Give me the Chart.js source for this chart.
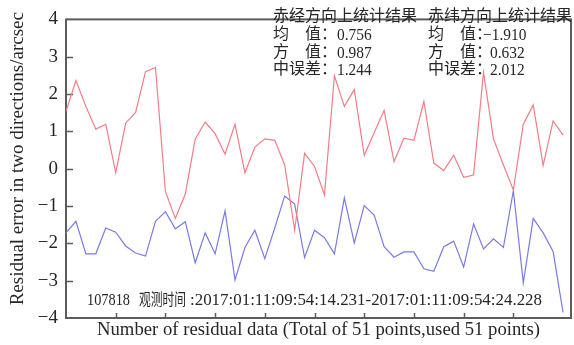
<!DOCTYPE html>
<html>
<head>
<meta charset="utf-8">
<script src="https://cdn.jsdelivr.net/npm/chart.js@4.4.1/dist/chart.umd.min.js"></script>
<style>
  html, body { margin: 0; padding: 0; background: #fff; }
  #wrap { width: 574px; height: 345px; }
</style>
</head>
<body>
<div id="wrap"><canvas id="c" width="574" height="345"></canvas></div>
<script>
// Residual sample numbers (51 observations, indexed from 0)
const sampleIndex = [
  0, 1, 2, 3, 4, 5, 6, 7, 8, 9,
  10, 11, 12, 13, 14, 15, 16, 17, 18, 19,
  20, 21, 22, 23, 24, 25, 26, 27, 28, 29,
  30, 31, 32, 33, 34, 35, 36, 37, 38, 39,
  40, 41, 42, 43, 44, 45, 46, 47, 48, 49, 50
];

// Right ascension residuals (arcsec)
const raResidual = [
  1.54, 2.36, 1.67, 1.06, 1.19, -0.11, 1.22, 1.51, 2.60, 2.71,
  -0.61, -1.33, -0.68, 0.80, 1.25, 0.94, 0.39, 1.19, -0.11, 0.58,
  0.80, 0.76, 0.10, -1.65, 0.41, 0.06, -0.70, 2.49, 1.67, 2.12,
  0.36, 0.96, 1.56, 0.19, 0.82, 0.76, 1.80, 0.15, -0.05, 0.36,
  -0.23, -0.17, 2.58, 0.80, 0.10, -0.57, 1.19, 1.71, 0.09, 1.28, 0.90
];

// Declination residuals (arcsec)
const decResidual = [
  -1.72, -1.41, -2.28, -2.28, -1.59, -1.70, -2.07, -2.26, -2.34, -1.41,
  -1.15, -1.61, -1.42, -2.52, -1.72, -2.28, -1.13, -2.98, -2.11, -1.65,
  -2.41, -1.59, -0.73, -0.95, -2.38, -1.65, -1.85, -2.28, -0.78, -1.99,
  -0.99, -1.24, -2.09, -2.37, -2.23, -2.23, -2.68, -2.75, -2.09, -1.94,
  -2.63, -1.48, -2.15, -1.88, -2.11, -0.59, -3.06, -1.33, -1.72, -2.22, -3.85
];

const yTickValues = [-4, -3, -2, -1, 0, 1, 2, 3, 4];
const xTickValues = [5, 10, 15, 20, 25, 30, 35, 40, 45];

// Summary statistics: mean, variance, RMS error
const statTitles = ['赤经方向上统计结果', '赤纬方向上统计结果'];
const statLabels = ['均　值：', '方　值：', '中误差：'];
const raStats = [0.756, 0.987, 1.244];
const decStats = [-1.910, 0.632, 2.012];

// Observation info line
const stationId = '107818';
const obsTimeLabel = '观测时间';
const obsStart = '2017:01:11:09:54:14.231';
const obsEnd = '2017:01:11:09:54:24.228';

const xTitle = 'Number of residual data (Total of 51 points,used 51 points)';
const yTitle = 'Residual error in two directions/arcsec';

const SERIF = '"Liberation Serif", "Noto Sans CJK SC", serif';
const INK = '#262626';
const FRAME = '#5c5c5c';

const fmt = v => v.toFixed(3).replace('-', '−');

// Draw text squeezed or stretched horizontally by a factor
function scaledText(ctx, text, left, y, sx) {
  ctx.save();
  ctx.translate(left, y);
  ctx.scale(sx, 1);
  ctx.fillText(text, 0, 0);
  ctx.restore();
}
// Draw text squeezed or stretched to span a given width
function fitText(ctx, text, left, y, width) {
  scaledText(ctx, text, left, y, width / ctx.measureText(text).width);
}

const decorPlugin = {
  id: 'decor',
  beforeDatasetsDraw(chart) {
    const { ctx, chartArea: a, scales } = chart;
    ctx.save();
    ctx.strokeStyle = FRAME;
    ctx.lineWidth = 2;
    ctx.strokeRect(a.left, a.top, a.right - a.left, a.bottom - a.top);
    // inward tick marks
    ctx.lineWidth = 1.5;
    ctx.beginPath();
    xTickValues.forEach(v => {
      const px = Math.round(scales.x.getPixelForValue(v)) + 0.5;
      ctx.moveTo(px, a.bottom);
      ctx.lineTo(px, a.bottom - 5);
    });
    yTickValues.slice(1, -1).forEach(v => {
      const py = Math.round(scales.y.getPixelForValue(v)) + 0.5;
      ctx.moveTo(a.left, py);
      ctx.lineTo(a.left + 7, py);
    });
    ctx.stroke();

    // vertical axis title, set a little above the plot's mid-height
    ctx.fillStyle = INK;
    ctx.font = '19px ' + SERIF;
    ctx.textAlign = 'center';
    ctx.textBaseline = 'middle';
    ctx.translate(18, (a.top + a.bottom) / 2 - 10);
    ctx.rotate(-Math.PI / 2);
    ctx.fillText(yTitle, 0, 0);
    ctx.restore();
  },
  afterDatasetsDraw(chart) {
    const { ctx } = chart;
    ctx.save();
    ctx.fillStyle = INK;
    ctx.textBaseline = 'middle';
    ctx.textAlign = 'left';
    const blocks = [
      { left: 273, valueLeft: 337, stats: raStats, title: statTitles[0] },
      { left: 428, valueLeft: 490, stats: decStats, title: statTitles[1] }
    ];
    const rowY = [17, 35, 53, 70];
    blocks.forEach(b => {
      ctx.font = '16px ' + SERIF;
      ctx.fillText(b.title, b.left, rowY[0]);
      statLabels.forEach((lab, i) => {
        ctx.font = '16px ' + SERIF;
        ctx.fillText(lab, b.left, rowY[i + 1]);
        const v = b.stats[i];
        ctx.font = '17.5px ' + SERIF;
        const x = v < 0 ? b.valueLeft - 7 : b.valueLeft;
        scaledText(ctx, fmt(v), x, rowY[i + 1] + 0.5, 0.88);
      });
    });
    // observation line
    ctx.font = '16px ' + SERIF;
    fitText(ctx, stationId, 87, 301, 43);
    fitText(ctx, obsTimeLabel, 139, 301, 47);
    ctx.font = '17px ' + SERIF;
    fitText(ctx, ':' + obsStart + '-' + obsEnd, 190, 301, 352);
    ctx.restore();
  }
};

new Chart(document.getElementById('c'), {
  type: 'line',
  data: {
    datasets: [
      {
        label: '赤经',
        data: sampleIndex.map((x, i) => ({ x, y: raResidual[i] })),
        borderColor: 'rgb(242,125,135)',
        borderWidth: 1.2,
        pointRadius: 0,
        tension: 0
      },
      {
        label: '赤纬',
        data: sampleIndex.map((x, i) => ({ x, y: decResidual[i] })),
        borderColor: 'rgb(122,122,230)',
        borderWidth: 1.2,
        pointRadius: 0,
        tension: 0
      }
    ]
  },
  options: {
    responsive: false,
    animation: false,
    devicePixelRatio: 1,
    layout: { padding: { top: 10, right: 3, left: 0, bottom: 0 } },
    plugins: { legend: { display: false }, tooltip: { enabled: false } },
    scales: {
      x: {
        type: 'linear',
        min: 0,
        max: 50.8,
        grid: { display: false, drawTicks: false },
        border: { display: false },
        ticks: { display: false },
        afterBuildTicks: s => { s.ticks = xTickValues.map(v => ({ value: v })); },
        afterFit: s => { s.height = 27; },
        title: {
          display: true,
          text: xTitle,
          color: INK,
          font: { family: SERIF, size: 18.7 },
          padding: { top: 0, bottom: 4 }
        }
      },
      y: {
        type: 'linear',
        min: -4,
        max: 4,
        grid: { display: false, drawTicks: false },
        border: { display: false },
        afterBuildTicks: s => { s.ticks = yTickValues.map(v => ({ value: v })); },
        afterFit: s => { s.width = 66; },
        ticks: {
          color: INK,
          padding: 8,
          font: { family: SERIF, size: 19 },
          callback: v => String(v).replace('-', '−')
        },
        title: { display: false }
      }
    }
  },
  plugins: [decorPlugin]
});
</script>
</body>
</html>
